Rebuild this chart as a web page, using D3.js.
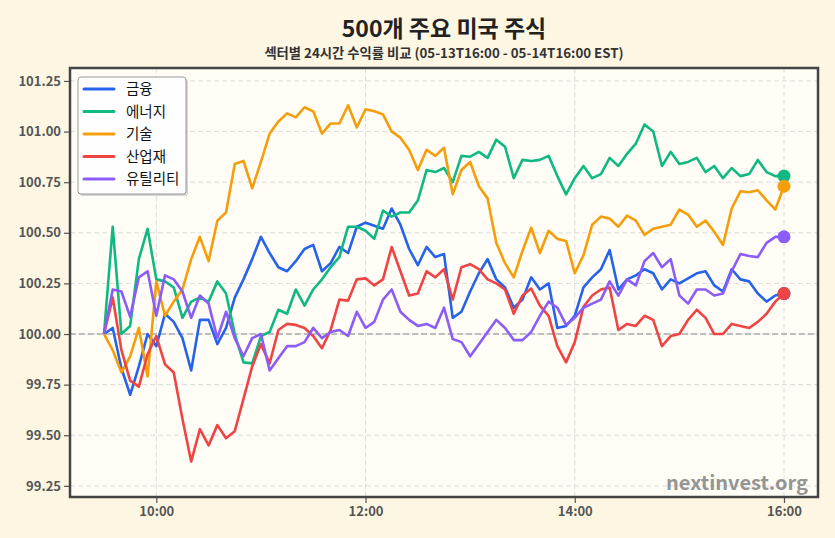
<!DOCTYPE html>
<html>
<head>
<meta charset="utf-8">
<script src="https://cdnjs.cloudflare.com/ajax/libs/d3/7.8.5/d3.min.js"></script>
<style>
  body { margin: 0; background: #fdf6e3; }
  svg { display: block; font-family: "Noto Sans CJK KR", "Noto Sans", sans-serif; }
</style>
</head>
<body>
<div id="chart"></div>
<script>
// sectors and colors
var sectors = ["금융", "에너지", "기술", "산업재", "유틸리티"];
var colors = ["#2563eb", "#10b981", "#f59e0b", "#ef4444", "#8b5cf6"];

// 5 minute steps from 09:30 to 16:00 (79 points)
var steps = d3.range(79);

// values, one per 5 minutes
var finance = [100.00,100.03,99.83,99.70,99.84,100.00,99.94,100.10,100.06,99.98,
  99.82,100.07,100.07,99.95,100.03,100.18,100.27,100.37,100.48,100.40,
  100.33,100.31,100.36,100.42,100.44,100.31,100.35,100.43,100.40,100.53,
  100.55,100.535,100.52,100.62,100.54,100.42,100.34,100.43,100.38,100.395,
  100.08,100.11,100.21,100.30,100.37,100.27,100.23,100.13,100.17,100.28,
  100.22,100.25,100.03,100.04,100.09,100.23,100.28,100.32,100.415,100.22,
  100.27,100.29,100.32,100.30,100.22,100.27,100.25,100.275,100.30,100.31,
  100.24,100.21,100.32,100.27,100.26,100.20,100.16,100.19,100.20];
var energy = [100.00,100.53,100.00,100.04,100.37,100.52,100.27,100.26,100.23,100.08,
  100.16,100.18,100.16,100.26,100.20,100.00,99.86,99.855,99.99,100.01,
  100.12,100.10,100.22,100.14,100.22,100.27,100.33,100.38,100.53,100.53,
  100.51,100.47,100.61,100.58,100.60,100.60,100.66,100.81,100.80,100.82,
  100.75,100.88,100.876,100.90,100.87,100.96,100.925,100.77,100.86,100.855,
  100.86,100.88,100.78,100.69,100.77,100.83,100.77,100.79,100.87,100.83,
  100.89,100.94,101.035,101.00,100.83,100.90,100.84,100.85,100.87,100.80,
  100.83,100.77,100.82,100.78,100.79,100.86,100.80,100.78,100.78];
var tech = [100.00,99.92,99.81,99.89,100.03,99.79,100.26,100.09,100.16,100.22,
  100.37,100.48,100.36,100.56,100.60,100.84,100.855,100.72,100.85,100.99,
  101.05,101.09,101.07,101.12,101.10,100.99,101.04,101.04,101.13,101.02,
  101.11,101.10,101.085,101.00,100.97,100.91,100.81,100.91,100.88,100.92,
  100.69,100.81,100.85,100.73,100.67,100.45,100.35,100.28,100.41,100.525,
  100.40,100.51,100.47,100.46,100.30,100.39,100.54,100.58,100.57,100.53,
  100.585,100.56,100.49,100.52,100.53,100.54,100.615,100.59,100.53,100.56,
  100.505,100.44,100.62,100.705,100.70,100.71,100.66,100.615,100.73];
var industrial = [100.00,100.18,99.92,99.77,99.74,99.90,99.99,99.85,99.81,99.58,
  99.37,99.53,99.45,99.55,99.485,99.52,99.68,99.84,99.95,99.855,
  100.02,100.05,100.045,100.03,99.99,99.93,100.02,100.17,100.165,100.27,
  100.275,100.24,100.27,100.43,100.31,100.19,100.20,100.31,100.28,100.32,
  100.17,100.33,100.345,100.32,100.27,100.25,100.22,100.10,100.19,100.225,
  100.14,100.09,99.94,99.86,99.96,100.135,100.19,100.22,100.23,100.02,
  100.05,100.04,100.09,100.07,99.94,99.99,100.00,100.07,100.12,100.08,
  100.00,100.00,100.05,100.04,100.03,100.06,100.10,100.16,100.20];
var utilities = [100.00,100.22,100.21,100.085,100.28,100.31,100.09,100.29,100.27,100.21,
  100.08,100.19,100.15,99.98,100.11,99.98,99.89,99.98,100.00,99.82,
  99.88,99.94,99.94,99.96,100.03,99.98,100.01,100.02,99.99,100.11,
  100.03,100.06,100.17,100.22,100.11,100.07,100.04,100.05,100.03,100.13,
  99.975,99.96,99.89,99.95,100.01,100.07,100.03,99.97,99.97,100.01,
  100.09,100.16,100.13,100.045,100.08,100.13,100.15,100.17,100.26,100.19,
  100.27,100.24,100.36,100.40,100.33,100.37,100.19,100.15,100.22,100.22,
  100.19,100.20,100.31,100.395,100.385,100.38,100.45,100.48,100.48];

var yTicks = [99.25, 99.50, 99.75, 100.00, 100.25, 100.50, 100.75, 101.00, 101.25];
var xTickHours = [10, 12, 14, 16];

var allSeries = [finance, energy, tech, industrial, utilities];

var W = 835, H = 538;
var pL = 70, pR = 818, pT = 68, pB = 497;
var cx = (pL + pR) / 2;

function timeAt(h, m) { return new Date(2024, 4, 14, h, m); }
var start = timeAt(9, 30);
var times = steps.map(function(i) { return d3.timeMinute.offset(start, i * 5); });

var x = d3.scaleTime()
  .domain([new Date(2024, 4, 14, 9, 10, 30), new Date(2024, 4, 14, 16, 19, 30)])
  .range([pL, pR]);
var y = d3.scaleLinear()
  .domain([99.195, 101.314])
  .range([pB, pT]);

var svg = d3.select("#chart").append("svg")
  .attr("width", W).attr("height", H);

svg.append("rect").attr("width", W).attr("height", H).attr("fill", "#fdf6e3");
svg.append("rect")
  .attr("x", pL).attr("y", pT)
  .attr("width", pR - pL).attr("height", pB - pT)
  .attr("fill", "#fffdf6");

// grid
var xTickVals = xTickHours.map(function(h) { return timeAt(h, 0); });
svg.append("g").selectAll("line")
  .data(xTickVals).enter().append("line")
  .attr("x1", function(d) { return x(d); }).attr("x2", function(d) { return x(d); })
  .attr("y1", pT).attr("y2", pB)
  .attr("stroke", "#dcdcdc").attr("stroke-width", 1).attr("stroke-dasharray", "5,3");
svg.append("g").selectAll("line")
  .data(yTicks).enter().append("line")
  .attr("x1", pL).attr("x2", pR)
  .attr("y1", function(d) { return y(d); }).attr("y2", function(d) { return y(d); })
  .attr("stroke", "#dcdcdc").attr("stroke-width", 1).attr("stroke-dasharray", "5,3");

// baseline at 100
svg.append("line")
  .attr("x1", pL).attr("x2", pR)
  .attr("y1", y(100)).attr("y2", y(100))
  .attr("stroke", "#9a9a9a").attr("stroke-width", 1.3).attr("stroke-dasharray", "6,3")
  .attr("opacity", 0.8);

// lines
var line = d3.line()
  .x(function(d, i) { return x(times[i]); })
  .y(function(d) { return y(d); });

allSeries.forEach(function(s, k) {
  svg.append("path")
    .datum(s)
    .attr("fill", "none")
    .attr("stroke", colors[k])
    .attr("stroke-width", 2.6)
    .attr("stroke-linejoin", "round")
    .attr("d", line);
});

// end dots
allSeries.forEach(function(s, k) {
  svg.append("circle")
    .attr("cx", x(times[times.length - 1]))
    .attr("cy", y(s[s.length - 1]))
    .attr("r", 6.5)
    .attr("fill", colors[k]);
});

// watermark
svg.append("text")
  .attr("x", 808).attr("y", 490)
  .attr("text-anchor", "end")
  .attr("font-size", 20).attr("font-weight", "bold")
  .attr("fill", "#8a8a8a").attr("opacity", 0.9)
  .text("nextinvest.org");

// frame
svg.append("rect")
  .attr("x", pL).attr("y", pT)
  .attr("width", pR - pL).attr("height", pB - pT)
  .attr("fill", "none").attr("stroke", "#444").attr("stroke-width", 2.5);

// axes
var yAxis = d3.axisLeft(y).tickValues(yTicks).tickFormat(d3.format(".2f")).tickSize(5).tickPadding(3);
var gy = svg.append("g").attr("transform", "translate(" + (pL - 1) + ",0)").call(yAxis);
var xAxis = d3.axisBottom(x).tickValues(xTickVals).tickFormat(d3.timeFormat("%H:%M")).tickSize(5).tickPadding(4);
var gx = svg.append("g").attr("transform", "translate(0," + (pB + 1) + ")").call(xAxis);
[gx, gy].forEach(function(g) {
  g.select(".domain").remove();
  g.selectAll(".tick line").attr("stroke", "#555").attr("stroke-width", 1.2);
  g.selectAll(".tick text")
    .attr("fill", "#555").attr("font-size", 13).attr("font-weight", "bold")
    .style("font-family", "'Noto Sans CJK KR', sans-serif");
});

// title
svg.append("text")
  .attr("x", cx).attr("y", 37)
  .attr("text-anchor", "middle")
  .attr("font-size", 23).attr("font-weight", "bold").attr("fill", "#222")
  .text("500개 주요 미국 주식");
svg.append("text")
  .attr("x", cx).attr("y", 58)
  .attr("text-anchor", "middle")
  .attr("font-size", 13.3).attr("font-weight", "bold").attr("fill", "#333")
  .text("섹터별 24시간 수익률 비교 (05-13T16:00 - 05-14T16:00 EST)");

// legend
var lg = svg.append("g").attr("transform", "translate(78,77)");
lg.append("rect")
  .attr("x", 2).attr("y", 2).attr("width", 108).attr("height", 117)
  .attr("rx", 3).attr("fill", "#bbb").attr("opacity", 0.6);
lg.append("rect")
  .attr("width", 108).attr("height", 117)
  .attr("rx", 3).attr("fill", "#fefefe").attr("stroke", "#999").attr("stroke-width", 1);
var items = lg.selectAll(".legend")
  .data(sectors).enter().append("g")
  .attr("class", "legend")
  .attr("transform", function(d, i) { return "translate(0," + (12 + i * 22.5) + ")"; });
items.append("line")
  .attr("x1", 6).attr("x2", 36)
  .attr("stroke", function(d, i) { return colors[i]; })
  .attr("stroke-width", 3).attr("stroke-linecap", "round");
items.append("text")
  .attr("x", 48).attr("dy", "0.35em")
  .attr("font-size", 14.5).attr("fill", "#111")
  .text(function(d) { return d; });
</script>
</body>
</html>
